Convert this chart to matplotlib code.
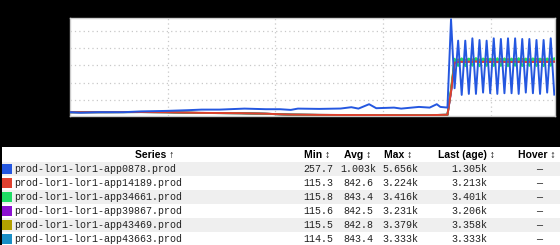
import matplotlib
matplotlib.use('Agg')
import matplotlib.pyplot as plt
from matplotlib.patches import Rectangle

# ---- data ----
# time index (one step per sample), pre-spike part sampled coarser
t_pre_blue = [0, 3, 8, 15, 20, 27, 33, 37, 42, 49, 55, 59, 62, 64, 70, 76, 79, 81,
              84, 86, 91, 93, 98, 101, 103, 104, 106]
t_pre_low = [0, 10, 20, 27, 36, 48, 55, 62, 70, 80, 90, 100, 106]
t_post = list(range(107, 137))

blue_pre = [290, 257.7, 290, 288, 335, 363, 404, 438, 438, 496, 461, 461, 421, 496,
            479, 500, 577, 496, 750, 519, 554, 496, 594, 554, 750, 594, 554]
blue_post = [5656, 1672, 4422, 1287, 4422, 1345, 4556, 1345, 4460, 1421,
             4422, 1383, 4556, 1345, 4518, 1383, 4556, 1383, 4556, 1345,
             4518, 1421, 4518, 1383, 4460, 1345, 4460, 1421, 4556, 1305]

red_pre = [290, 292, 300, 288, 250, 232, 200, 150, 133, 125, 120, 115.3, 140]
red_post = [1480, 3150, 3190, 3205, 3180, 3210, 3195, 3224, 3188, 3200,
            3215, 3192, 3208, 3185, 3218, 3196, 3204, 3190, 3212, 3198,
            3220, 3186, 3206, 3194, 3215, 3200, 3202, 3197, 3208, 3213]

green_pre = [288, 290, 296, 285, 246, 228, 196, 148, 131, 122, 118, 115.8, 138]
green_post = [1600, 3380, 2960, 3400, 2950, 3390, 2970, 3416, 2945, 3395,
              2965, 3385, 2955, 3405, 2960, 3398, 2948, 3388, 2968, 3410,
              2952, 3392, 2962, 3400, 2958, 3386, 2950, 3396, 2966, 3401]

purple_pre = [289, 291, 298, 287, 248, 230, 198, 149, 132, 124, 119, 115.6, 139]
purple_post = [1450, 3140, 3185, 3200, 3178, 3205, 3190, 3231, 3185, 3196,
               3210, 3188, 3204, 3182, 3214, 3192, 3200, 3186, 3208, 3194,
               3216, 3183, 3202, 3190, 3211, 3196, 3199, 3193, 3204, 3206]

olive_pre = [289, 290, 297, 286, 247, 229, 197, 149, 132, 123, 119, 115.5, 139]
olive_post = [1550, 3300, 3330, 3350, 3320, 3360, 3335, 3379, 3325, 3345,
              3362, 3330, 3355, 3322, 3370, 3338, 3350, 3328, 3365, 3340,
              3372, 3326, 3352, 3334, 3368, 3342, 3348, 3336, 3356, 3358]

teal_pre = [288, 289, 296, 286, 247, 229, 197, 148, 131, 122, 118, 114.5, 138]
teal_post = [1520, 3280, 3300, 3315, 3295, 3320, 3305, 3330, 3298, 3310,
             3325, 3302, 3318, 3296, 3328, 3308, 3316, 3300, 3322, 3310,
             3330, 3298, 3314, 3306, 3326, 3312, 3316, 3308, 3320, 3333]

names = ['prod-lor1-lor1-app0878.prod', 'prod-lor1-lor1-app14189.prod',
         'prod-lor1-lor1-app34661.prod', 'prod-lor1-lor1-app39867.prod',
         'prod-lor1-lor1-app43469.prod', 'prod-lor1-lor1-app43663.prod']
mins = ['257.7', '115.3', '115.8', '115.6', '115.5', '114.5']
avgs = ['1.003k', '842.6', '843.4', '842.5', '842.8', '843.4']
maxs = ['5.656k', '3.224k', '3.416k', '3.231k', '3.379k', '3.333k']
lasts = ['1.305k', '3.213k', '3.401k', '3.206k', '3.358k', '3.333k']
hovers = ['\u2014'] * 6

colors = ['#2457e0', '#e0402f', '#1edc64', '#8b10d0', '#b3a000', '#1a8fc6']

W, H = 560, 245
fig = plt.figure(figsize=(W / 100, H / 100), dpi=100, facecolor='black')


def fx(x):
    return x / W


def fy(y):
    return 1 - y / H


# ---- chart ----
ax = fig.add_axes([fx(70), fy(116.5), 485 / W, 98.5 / H])
ax.set_facecolor('white')

series = [
    (t_pre_low, teal_pre, teal_post, colors[5]),
    (t_pre_low, olive_pre, olive_post, colors[4]),
    (t_pre_low, purple_pre, purple_post, colors[3]),
    (t_pre_low, green_pre, green_post, colors[2]),
    (t_pre_low, red_pre, red_post, colors[1]),
    (t_pre_blue, blue_pre, blue_post, colors[0]),
]
for tp, pre, post, c in series:
    ax.plot(tp + t_post, pre + post, color=c, linewidth=1.4,
            solid_joinstyle='round', zorder=3)

ax.set_xlim(0, 136.2)
ax.set_ylim(40, 5730)
ax.set_xticks([27.5, 57.7, 87.9, 118.1])
ax.set_yticks([1000, 2000, 3000, 4000, 5000])
ax.tick_params(length=0, labelbottom=False, labelleft=False)
ax.grid(True, color='#c8c8c8', linestyle=(0, (1, 2.5)), linewidth=0.9)
ax.set_axisbelow(True)
for sp in ax.spines.values():
    sp.set_color('#cccccc')
    sp.set_linewidth(1)
    sp.set_zorder(1)

# ---- legend table ----
fig.add_artist(Rectangle((fx(2), 0), (W - 2) / W, (245 - 147) / H,
                         transform=fig.transFigure, facecolor='white', edgecolor='none'))
row_top = 162
row_h = 14
for i in range(len(names)):
    top = row_top + row_h * i
    if i % 2 == 0:
        fig.add_artist(Rectangle((fx(2), fy(top + row_h)), (W - 2) / W, row_h / H,
                                 transform=fig.transFigure, facecolor='#efefef',
                                 edgecolor='none'))

hdr = dict(fontsize=7.5, fontweight='bold', family=['Liberation Sans', 'DejaVu Sans'],
           va='center', ha='center', color='black')
hy = fy(155)
fig.text(fx(155), hy, 'Series \u2191', **hdr)
fig.text(fx(317), hy, 'Min \u2195', **hdr)
fig.text(fx(358), hy, 'Avg \u2195', **hdr)
fig.text(fx(398), hy, 'Max \u2195', **hdr)
fig.text(fx(467), hy, 'Last (age) \u2195', **hdr)
fig.text(fx(537), hy, 'Hover \u2195', **hdr)

mono = dict(fontsize=7.2, family=['Liberation Mono', 'DejaVu Sans Mono'],
            va='center', color='#222222')
for i, name in enumerate(names):
    cy = row_top + row_h * i + row_h / 2
    fig.add_artist(Rectangle((fx(2), fy(cy + 5)), 10 / W, 10 / H,
                             transform=fig.transFigure, facecolor=colors[i],
                             edgecolor='none'))
    fig.text(fx(14), fy(cy), name, ha='left', **mono)
    fig.text(fx(318), fy(cy), mins[i], ha='center', **mono)
    fig.text(fx(358), fy(cy), avgs[i], ha='center', **mono)
    fig.text(fx(400), fy(cy), maxs[i], ha='center', **mono)
    fig.text(fx(469), fy(cy), lasts[i], ha='center', **mono)
    fig.text(fx(539), fy(cy), hovers[i], ha='center', **mono)

fig.savefig('out.png', dpi=100, facecolor='black')
